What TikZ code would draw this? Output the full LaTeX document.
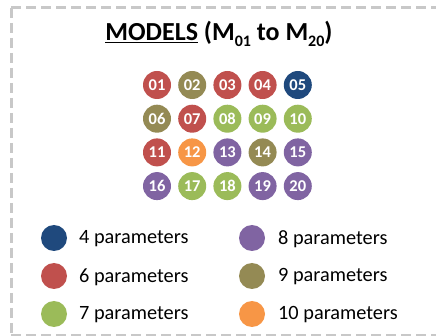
\documentclass[tikz,border=0pt]{standalone}
\usepackage{fontspec}
\setmainfont{Carlito}
\definecolor{cred}{HTML}{C0504D}
\definecolor{colive}{HTML}{948A54}
\definecolor{cgreen}{HTML}{9BBB59}
\definecolor{cblue}{HTML}{1F497D}
\definecolor{cpurple}{HTML}{8064A2}
\definecolor{corange}{HTML}{F79646}
\definecolor{cborder}{HTML}{C8C8C8}
\tikzset{
  model/.style={circle, fill=#1, minimum size=28pt, inner sep=0pt, text=white, font=\fontsize{16.5}{16.5}\selectfont\bfseries},
  legdot/.style={circle, fill=#1, minimum size=26pt, inner sep=0pt},
  legtext/.style={anchor=west, inner sep=0pt, font=\fontsize{20.3}{20.3}\selectfont},
  frame/.style={draw=cborder, line width=3pt, dash pattern=on 10pt off 5pt}
}
\begin{document}
\begin{tikzpicture}[x=1pt,y=-1pt]
\useasboundingbox (0,0) rectangle (436,336);
\draw[frame] (11,8) -- (445,8) (11,8) -- (11,335) (11,335) -- (445,335);
\node[font=\fontsize{26}{26}\selectfont\bfseries] (title) at (219,34) {\underline{MODELS} (M\raisebox{-0.25em}{\fontsize{16}{16}\selectfont 01} to M\raisebox{-0.25em}{\fontsize{16}{16}\selectfont 20})};
% grid
\foreach \n/\c [count=\i from 0] in {01/cred,02/colive,03/cred,04/cred,05/cblue,06/colive,07/cred,08/cgreen,09/cgreen,10/cgreen,11/cred,12/corange,13/cpurple,14/colive,15/cpurple,16/cpurple,17/cgreen,18/cgreen,19/cpurple,20/cpurple}{
  \pgfmathtruncatemacro{\col}{mod(\i,5)}
  \pgfmathtruncatemacro{\row}{div(\i,5)}
  \node[model=\c] (m\n) at ({157+35.2*\col},{85+33.7*\row}) {\n};
}
% legend
\node[legdot=cblue] (l4) at (54,238) {};
\node[legtext] (t4) at (79,239) {4 parameters};
\node[legdot=cred] (l6) at (54,276) {};
\node[legtext] (t6) at (79,277) {6 parameters};
\node[legdot=cgreen] (l7) at (54,314) {};
\node[legtext] (t7) at (79,315) {7 parameters};
\node[legdot=cpurple] (l8) at (252,238) {};
\node[legtext] (t8) at (278,239) {8 parameters};
\node[legdot=colive] (l9) at (252,276) {};
\node[legtext] (t9) at (278,277) {9 parameters};
\node[legdot=corange] (l10) at (252,314) {};
\node[legtext] (t10) at (278,315) {10 parameters};
\end{tikzpicture}
\end{document}
